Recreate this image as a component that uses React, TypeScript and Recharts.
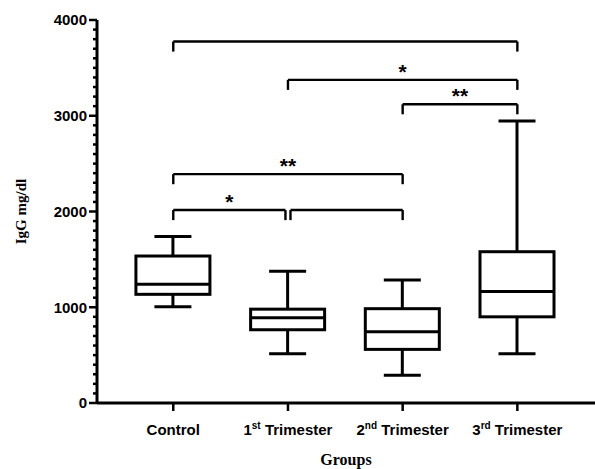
import { ComposedChart, Bar, XAxis, YAxis, ReferenceLine } from "recharts";

// groups on the x axis (label split so the ordinal suffix can be raised)
const groups = ["Control", "1st Trimester", "2nd Trimester", "3rd Trimester"];
const groupHeads = ["Control", "1", "2", "3"];
const groupSuffixes = ["", "st", "nd", "rd"];
const groupTails = ["", " Trimester", " Trimester", " Trimester"];

// IgG mg/dl
const mins = [1005, 515, 290, 515];
const q1s = [1135, 765, 560, 900];
const medians = [1240, 890, 745, 1165];
const q3s = [1535, 980, 985, 1580];
const maxs = [1740, 1375, 1285, 2945];

const yMajor = [0, 1000, 2000, 3000, 4000];
const yMinorStep = 100;

// significance brackets between groups
const comparisons = [
  { from: 0, to: 3, level: 3775, label: "" },
  { from: 1, to: 3, level: 3375, label: "*" },
  { from: 2, to: 3, level: 3120, label: "**" },
  { from: 0, to: 2, level: 2390, label: "**" },
  { from: 0, to: 1, level: 2015, label: "*" },
  { from: 1, to: 2, level: 2015, label: "" },
];

const data = groups.map((name, i) => ({
  pos: i,
  name,
  min: mins[i],
  q1: q1s[i],
  median: medians[i],
  q3: q3s[i],
  max: maxs[i],
  range: [mins[i], maxs[i]],
}));

const yTicks: number[] = [];
for (let v = 0; v <= yMajor[yMajor.length - 1]; v += yMinorStep) yTicks.push(v);

const SANS = "'Liberation Sans', Arial, sans-serif";
const SERIF = "'Liberation Serif', 'Times New Roman', serif";

function BoxShape(props: any) {
  const { x, y, width, height, payload } = props;
  const top = Math.min(y, y + height);
  const h = Math.abs(height);
  const span = payload.max - payload.min;
  const py = (v: number) => top + ((payload.max - v) / span) * h;
  const cx = x + width / 2;
  const cap = width / 4;
  return (
    <g stroke="#000" strokeWidth={3} fill="none">
      <line x1={cx - cap} x2={cx + cap} y1={py(payload.max)} y2={py(payload.max)} />
      <line x1={cx} x2={cx} y1={py(payload.max)} y2={py(payload.q3)} />
      <rect x={x} y={py(payload.q3)} width={width} height={py(payload.q1) - py(payload.q3)} fill="#fff" />
      <line x1={x} x2={x + width} y1={py(payload.median)} y2={py(payload.median)} />
      <line x1={cx} x2={cx} y1={py(payload.q1)} y2={py(payload.min)} />
      <line x1={cx - cap} x2={cx + cap} y1={py(payload.min)} y2={py(payload.min)} />
    </g>
  );
}

function YTick(props: any) {
  const { x, y, payload } = props;
  const major = payload.value % 1000 === 0;
  return (
    <g>
      <line x1={x - (major ? 8 : 4)} x2={x} y1={y} y2={y} stroke="#000" strokeWidth={2.5} />
      {major && (
        <text x={x - 10} y={y} dy="0.36em" textAnchor="end" fontFamily={SANS} fontWeight="bold" fontSize={15} fill="#000">
          {payload.value}
        </text>
      )}
    </g>
  );
}

function XTick(props: any) {
  const { x, y, payload } = props;
  const i = payload.value;
  return (
    <text x={x} y={y + 22} textAnchor="middle" fontFamily={SANS} fontWeight="bold" fontSize={15} fill="#000">
      <tspan>{groupHeads[i]}</tspan>
      {groupSuffixes[i] && (
        <tspan fontSize={10} dy={-6}>
          {groupSuffixes[i]}
        </tspan>
      )}
      {groupTails[i] && <tspan dy={groupSuffixes[i] ? 6 : 0}>{groupTails[i]}</tspan>}
    </text>
  );
}

const YLabel = (props: any) => {
  const { viewBox } = props;
  const lx = viewBox.x + 26;
  const ly = viewBox.y + viewBox.height / 2;
  return (
    <text x={lx} y={ly} transform={`rotate(-90, ${lx}, ${ly})`} textAnchor="middle" fontFamily={SERIF} fontWeight="bold" fontSize={15} fill="#000">
      IgG mg/dl
    </text>
  );
};

const drop = 105;

// pull a bracket end in a little where it meets another bracket at the same height
const endAt = (c: (typeof comparisons)[number], g: number, dir: number) => {
  const shared = comparisons.some((o) => o !== c && o.level === c.level && (o.from === g || o.to === g));
  return shared ? g + dir * 0.022 : g;
};

export default function App() {
  return (
    <div style={{ position: "absolute", left: 0, top: 0, background: "#fff" }}>
      <ComposedChart width={595} height={469} data={data} margin={{ top: 20, right: 0, bottom: 0, left: 0 }}>
        <XAxis
          dataKey="pos"
          type="number"
          domain={[-0.665, 3.677]}
          allowDataOverflow
          ticks={[0, 1, 2, 3]}
          interval={0}
          height={66}
          tick={<XTick />}
          tickSize={8}
          tickLine={{ stroke: "#000", strokeWidth: 2.5 }}
          axisLine={{ stroke: "#000", strokeWidth: 3 }}
          label={{ value: "Groups", position: "insideBottom", offset: 4, fontFamily: SERIF, fontWeight: "bold", fontSize: 16, fill: "#000" }}
        />
        <YAxis
          type="number"
          domain={[0, 4000]}
          ticks={yTicks}
          interval={0}
          width={97}
          tickSize={0}
          tickMargin={0}
          tick={<YTick />}
          tickLine={false}
          axisLine={{ stroke: "#000", strokeWidth: 3 }}
          label={<YLabel />}
        />
        <Bar dataKey="range" barSize={74} shape={<BoxShape />} isAnimationActive={false} />
        {comparisons.map((c, k) => {
          const x1 = endAt(c, c.from, 1);
          const x2 = endAt(c, c.to, -1);
          const common = { stroke: "#000", strokeWidth: 2.4, ifOverflow: "visible" as const };
          return [
            <ReferenceLine
              key={`h${k}`}
              {...common}
              segment={[{ x: x1, y: c.level }, { x: x2, y: c.level }]}
              label={c.label ? { value: c.label, position: "top", offset: 1, fontFamily: SANS, fontWeight: "bold", fontSize: 21, fill: "#000" } : undefined}
            />,
            <ReferenceLine key={`l${k}`} {...common} segment={[{ x: x1, y: c.level }, { x: x1, y: c.level - drop }]} />,
            <ReferenceLine key={`r${k}`} {...common} segment={[{ x: x2, y: c.level }, { x: x2, y: c.level - drop }]} />,
          ];
        })}
      </ComposedChart>
    </div>
  );
}
